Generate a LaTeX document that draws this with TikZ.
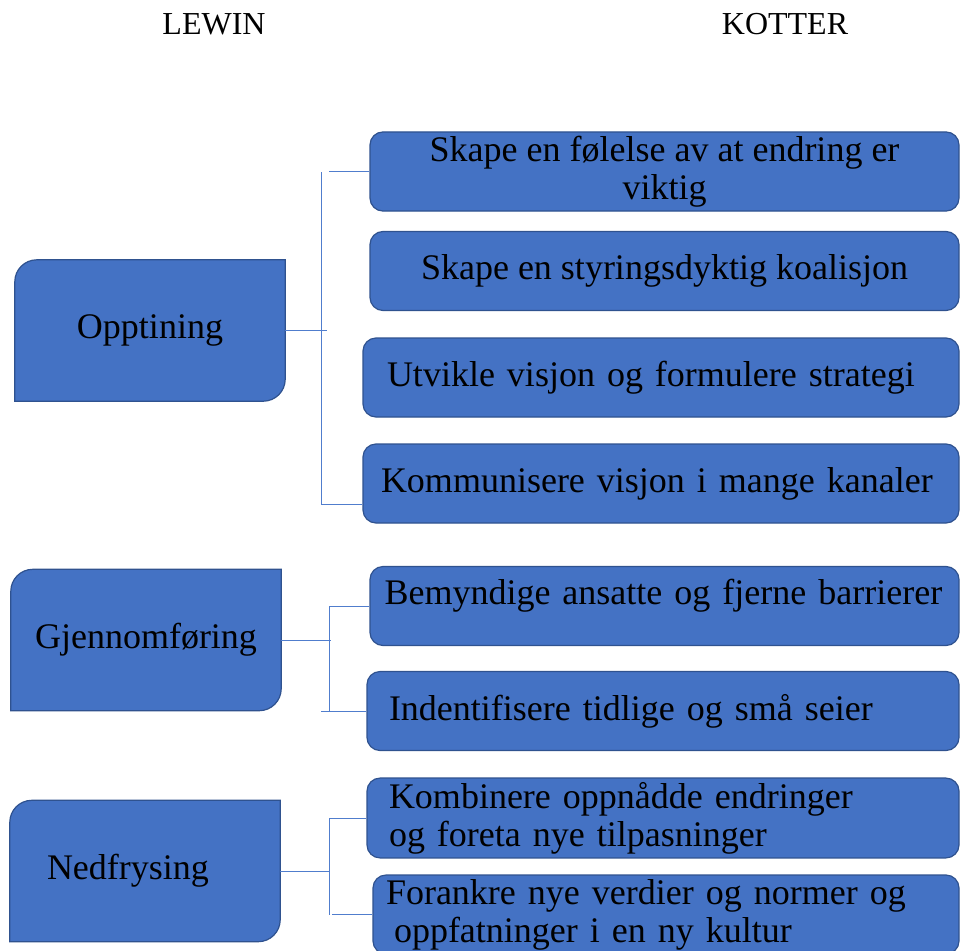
\documentclass[tikz,border=0pt]{standalone}
\usepackage{fontspec}
\setmainfont{Liberation Serif}
\usetikzlibrary{backgrounds}
\definecolor{boxblue}{RGB}{68,114,196}
\definecolor{edgeblue}{RGB}{47,82,143}
\definecolor{linkblue}{RGB}{80,125,205}
\tikzset{
  title/.style={font=\fontsize{32}{36}\selectfont},
  phase/.style={minimum width=270pt, minimum height=141pt, inner sep=0pt,
    font=\fontsize{36}{38}\selectfont},
  phaseshape/.style={fill=boxblue, draw=edgeblue, line width=1.2pt},
  kotterbox/.style={draw=edgeblue, fill=boxblue, line width=1.2pt,
    rounded corners=13pt, minimum height=79pt, inner sep=4pt,
    font=\fontsize{36}{38}\selectfont},
  kleft/.style={text width=#1, align=left},
  kleft/.default=548pt,
  link/.style={draw=linkblue, line width=1pt}
}

\begin{document}
\begin{tikzpicture}[x=1pt,y=-1pt]
                \clip (0,0) rectangle (960,950);

                %headings
                \node[title] (lewin) at (214,24) {LEWIN};
                \node[title] (kotter) at (785,24) {KOTTER};

                %Lewin phases
                \node[phase] (opp) at (150,330.5) {Opptining};
                \node[phase] (gjen) at (146,640) {Gjennomføring};
                \node[phase, text width=196pt, align=left] (ned) at (145,871) {Nedfrysing};

                % phase outlines: rounded top left and bottom right only
                \begin{scope}[on background layer]
                    \foreach \n in {opp,gjen,ned}
                        \draw[phaseshape] (\n.north east) [rounded corners=22pt] -- (\n.north west)
                            [sharp corners] -- (\n.south west) [rounded corners=22pt] -- (\n.south east)
                            [sharp corners] -- cycle;
                \end{scope}

                %Kotter steps
                \node[kotterbox, minimum width=589pt, align=center] (k1) at (664.5,171.5)
                    {Skape en følelse av at endring er\\viktig};
                \node[kotterbox, minimum width=589pt] (k2) at (664.5,271)
                    {Skape en styringsdyktig koalisjon};
                \node[kotterbox, minimum width=596pt, kleft] (k3) at (661,377.5)
                    {Utvikle visjon og formulere strategi};
                \node[kotterbox, minimum width=596pt, kleft=560pt] (k4) at (661,483.5)
                    {Kommunisere visjon i mange kanaler};
                \node[kotterbox, minimum width=589pt, kleft=560pt, text depth=28pt] (k5) at (664.5,606)
                    {Bemyndige ansatte og fjerne barrierer};
                \node[kotterbox, minimum width=592pt, kleft] (k6) at (663,711)
                    {Indentifisere tidlige og små seier};
                \node[kotterbox, minimum width=592pt, kleft] (k7) at (663,818)
                    {Kombinere oppnådde endringer\\og foreta nye tilpasninger};
                \node[kotterbox, minimum width=586pt, kleft=560pt] (k8) at (666,914.5)
                    {Forankre nye verdier og normer og\\\hspace*{8pt}oppfatninger i en ny kultur};

                %brackets: Opptining
                \draw[link] (opp.east) -- ++(42,0);
                \draw[link] (k1.west) -- ++(-40,0) coordinate (s1t);
                \draw[link] ([yshift=-20.5pt]k4.west) -- ++(-41,0) coordinate (s1b);
                \draw[link] (s1b) -- (s1b |- s1t);

                %brackets: Gjennomføring
                \draw[link] (gjen.east) -- ++(50,0);
                \draw[link] (k5.west) -- ++(-40,0) coordinate (s2t);
                \draw[link] (k6.west) -- ++(-45,0) coordinate (s2b);
                \draw[link] (s2t) -- (s2t |- s2b);

                %brackets: Nedfrysing
                \draw[link] (ned.east) -- ++(50,0);
                \draw[link] (k7.west) -- ++(-37,0) coordinate (s3t);
                \draw[link] (k8.west) -- ++(-40,0) coordinate (s3b);
                \draw[link] (s3t) -- (s3t |- s3b);
\end{tikzpicture}
\end{document}
